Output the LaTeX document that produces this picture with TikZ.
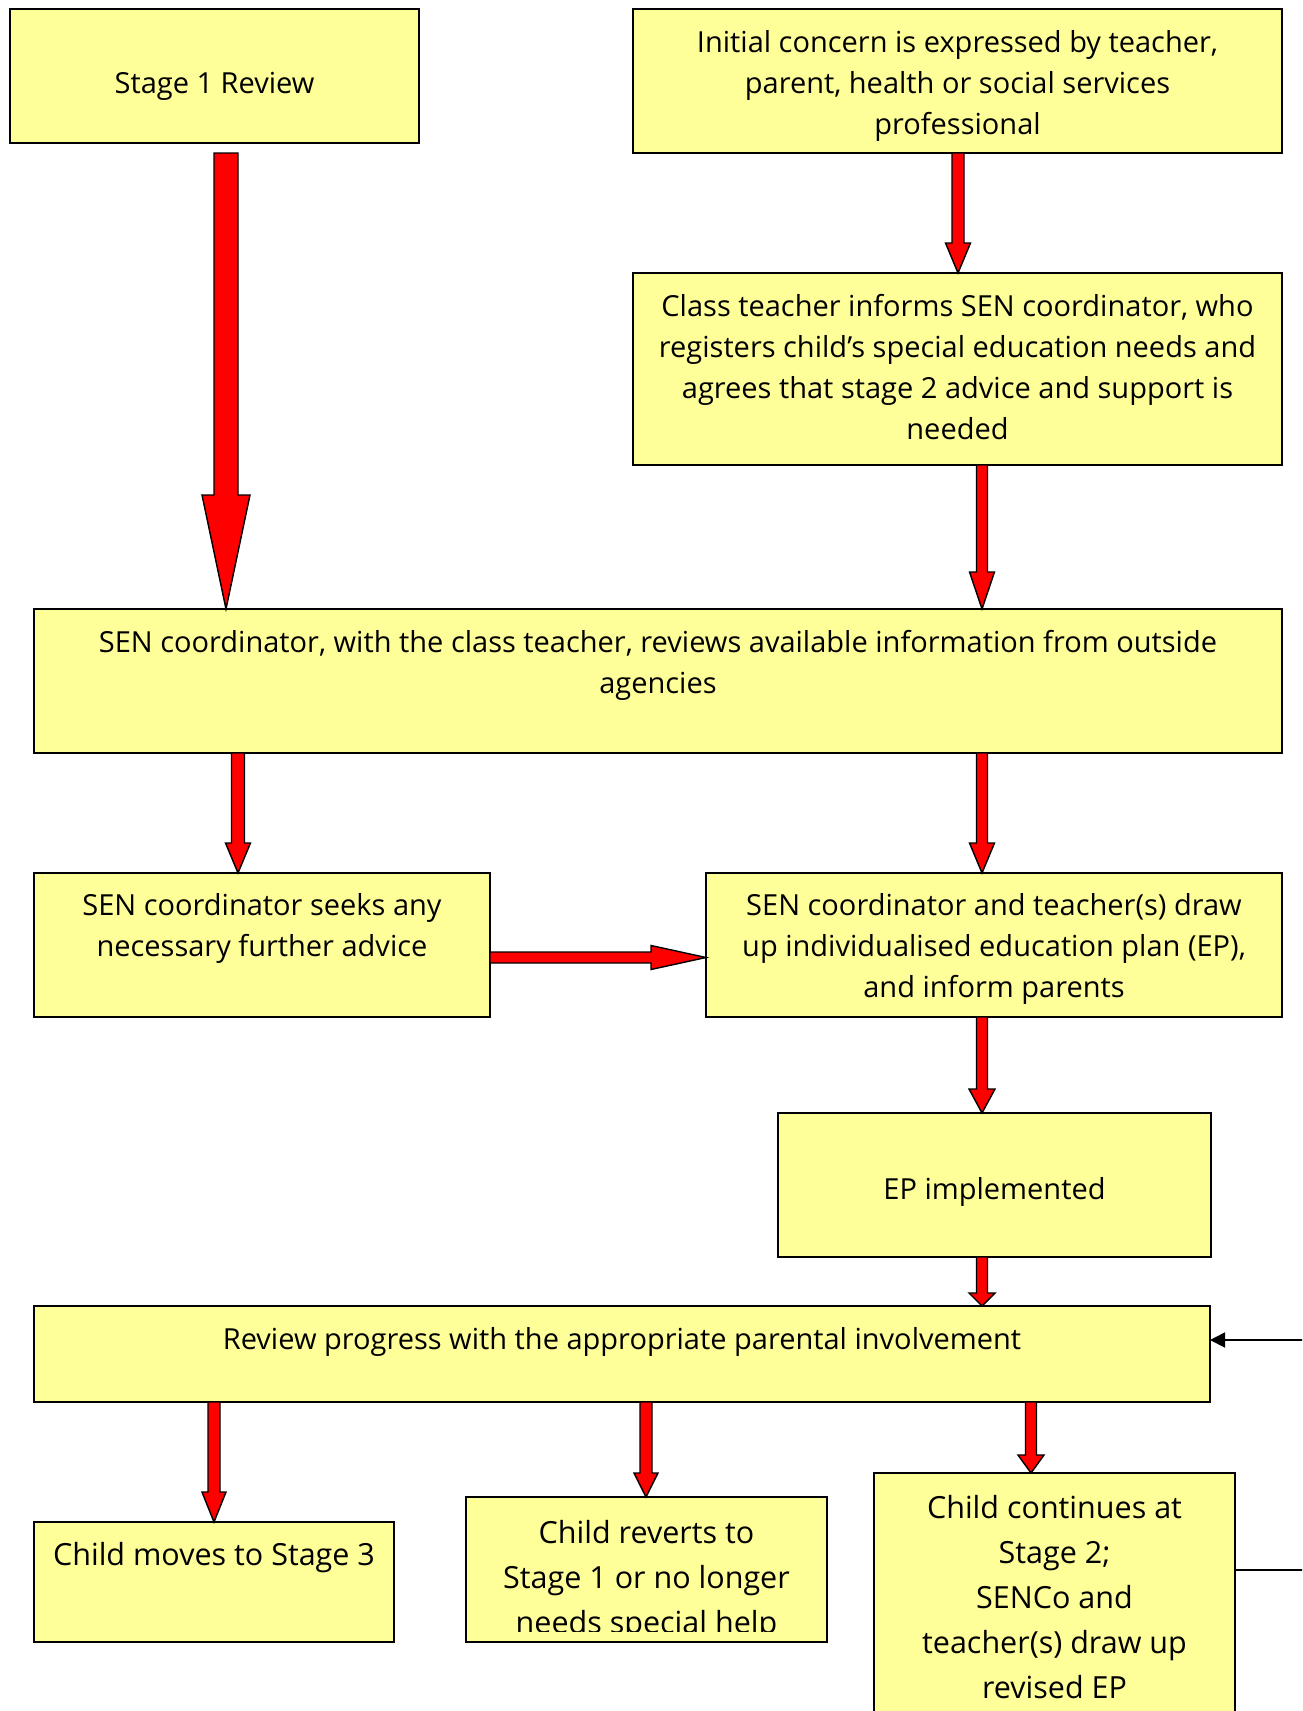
\documentclass[tikz,border=0pt]{standalone}
\usepackage{fontspec}
\setmainfont{Open Sans}
\usetikzlibrary{calc,arrows.meta}
\definecolor{boxy}{HTML}{FFFF99}
\definecolor{arrred}{HTML}{FF0000}
\tikzset{
  box/.style={draw=black, fill=boxy, line width=1.8pt, inner sep=0pt, outer sep=0pt},
  txt/.style={anchor=base, align=center, inner sep=0pt, font=\fontsize{29}{41}\selectfont},
  txtb/.style={anchor=base, align=center, inner sep=0pt, font=\fontsize{30.5}{45}\selectfont},
  redarr/.style={fill=arrred, draw=black, line width=1.4pt, line join=miter},
  fb/.style={draw=black, line width=1.8pt},
}
% vertical down arrow: start, tip, half shaft, half head, head length
\newcommand\varrow[5]{%
  \path[redarr] let \p1=(#1), \p2=(#2) in
    (\x2-#3pt,\y1) -- (\x2-#3pt,\y2+#5pt) -- (\x2-#4pt,\y2+#5pt) -- (\x2,\y2)
    -- (\x2+#4pt,\y2+#5pt) -- (\x2+#3pt,\y2+#5pt) -- (\x2+#3pt,\y1) -- cycle;}
% horizontal right arrow
\newcommand\harrow[5]{%
  \path[redarr] let \p1=(#1), \p2=(#2) in
    (\x1,\y2+#3pt) -- (\x2-#5pt,\y2+#3pt) -- (\x2-#5pt,\y2+#4pt) -- (\x2,\y2)
    -- (\x2-#5pt,\y2-#4pt) -- (\x2-#5pt,\y2-#3pt) -- (\x1,\y2-#3pt) -- cycle;}
\begin{document}
\begin{tikzpicture}[x=1pt,y=-1pt]
\useasboundingbox (0,0) rectangle (1302,1711);
\fill[white] (0,0) rectangle (1302,1711);
\clip (0,0) rectangle (1302,1711);

% boxes
\node[box, minimum width=409pt, minimum height=134pt] (stage1) at (214.5,76) {};
\node[box, minimum width=649pt, minimum height=144pt] (initial) at (957.5,81) {};
\node[box, minimum width=649pt, minimum height=192pt] (classt) at (957.5,369) {};
\node[box, minimum width=1248pt, minimum height=144pt] (senrev) at (658,681) {};
\node[box, minimum width=456pt, minimum height=144pt] (seeks) at (262,945) {};
\node[box, minimum width=576pt, minimum height=144pt] (drawep) at (994,945) {};
\node[box, minimum width=433pt, minimum height=144pt] (ep) at (994.5,1185) {};
\node[box, minimum width=1176pt, minimum height=96pt] (review) at (622,1354) {};
\node[box, minimum width=360pt, minimum height=120pt] (moves) at (214,1582) {};
\node[box, minimum width=361pt, minimum height=145pt] (reverts) at (646.5,1569.5) {};
\node[box, minimum width=361pt, minimum height=287pt] (cont) at (1054.5,1616.5) {};

% texts (anchor = baseline of last line)
\node[txt] (stage1T) at (214.5,93) {Stage 1 Review};
\node[txt] (initialT) at (957.5,134.6) {Initial concern is expressed by teacher,\\parent, health or social services\\professional};
\node[txt] (classtT) at (957.5,439) {Class teacher informs SEN coordinator, who\\registers child’s special education needs and\\agrees that stage 2 advice and support is\\needed};
\node[txt] (senrevT) at (658,693) {SEN coordinator, with the class teacher, reviews available information from outside\\agencies};
\node[txt] (seeksT) at (262,956) {SEN coordinator seeks any\\necessary further advice};
\node[txt] (drawepT) at (994,997) {SEN coordinator and teacher(s) draw\\up individualised education plan (EP),\\and inform parents};
\node[txt] (epT) at (994.5,1199) {EP implemented};
\node[txt] (reviewT) at (622,1349) {Review progress with the appropriate parental involvement};
\node[txtb] (movesT) at (214,1565) {Child moves to Stage 3};
\begin{scope}
  \clip (466,1497) rectangle (827,1631);
  \node[txtb] (revertsT) at (646.5,1633) {Child reverts to\\Stage 1 or no longer\\needs special help};
\end{scope}
\node[txtb] (contT) at (1054.5,1698) {Child continues at\\Stage 2;\\SENCo and\\teacher(s) draw up\\revised EP};

% red arrows
\varrow{initial.south}{classt.north -| 958,0}{6}{12.5}{30}
\varrow{classt.south}{senrev.north -| 982,0}{5.5}{12.5}{37}
\varrow{$(stage1.south)+(0,10)$}{senrev.north -| 226,0}{12}{24}{114}
\varrow{senrev.south}{seeks.north -| 238,0}{6.5}{12.5}{30}
\varrow{senrev.south}{drawep.north -| 982,0}{5.5}{12.5}{30}
\harrow{seeks.east}{drawep.west |- 0,957.5}{5.5}{12}{55}
\varrow{drawep.south}{ep.north -| 982,0}{5.5}{13}{24}
\varrow{ep.south}{review.north -| 982,0}{5.5}{13}{13}
\varrow{review.south}{moves.north -| 214,0}{6}{12}{30}
\varrow{review.south}{reverts.north -| 646,0}{6}{12}{24}
\varrow{review.south}{cont.north -| 1031,0}{5.5}{13}{18}

% feedback loop
\draw[fb, -{Triangle[length=15pt,width=15pt]}] (cont.east |- 0,1570) -- (1330,1570) -- (1330,1340) -- (review.east |- 0,1340);
\end{tikzpicture}
\end{document}
